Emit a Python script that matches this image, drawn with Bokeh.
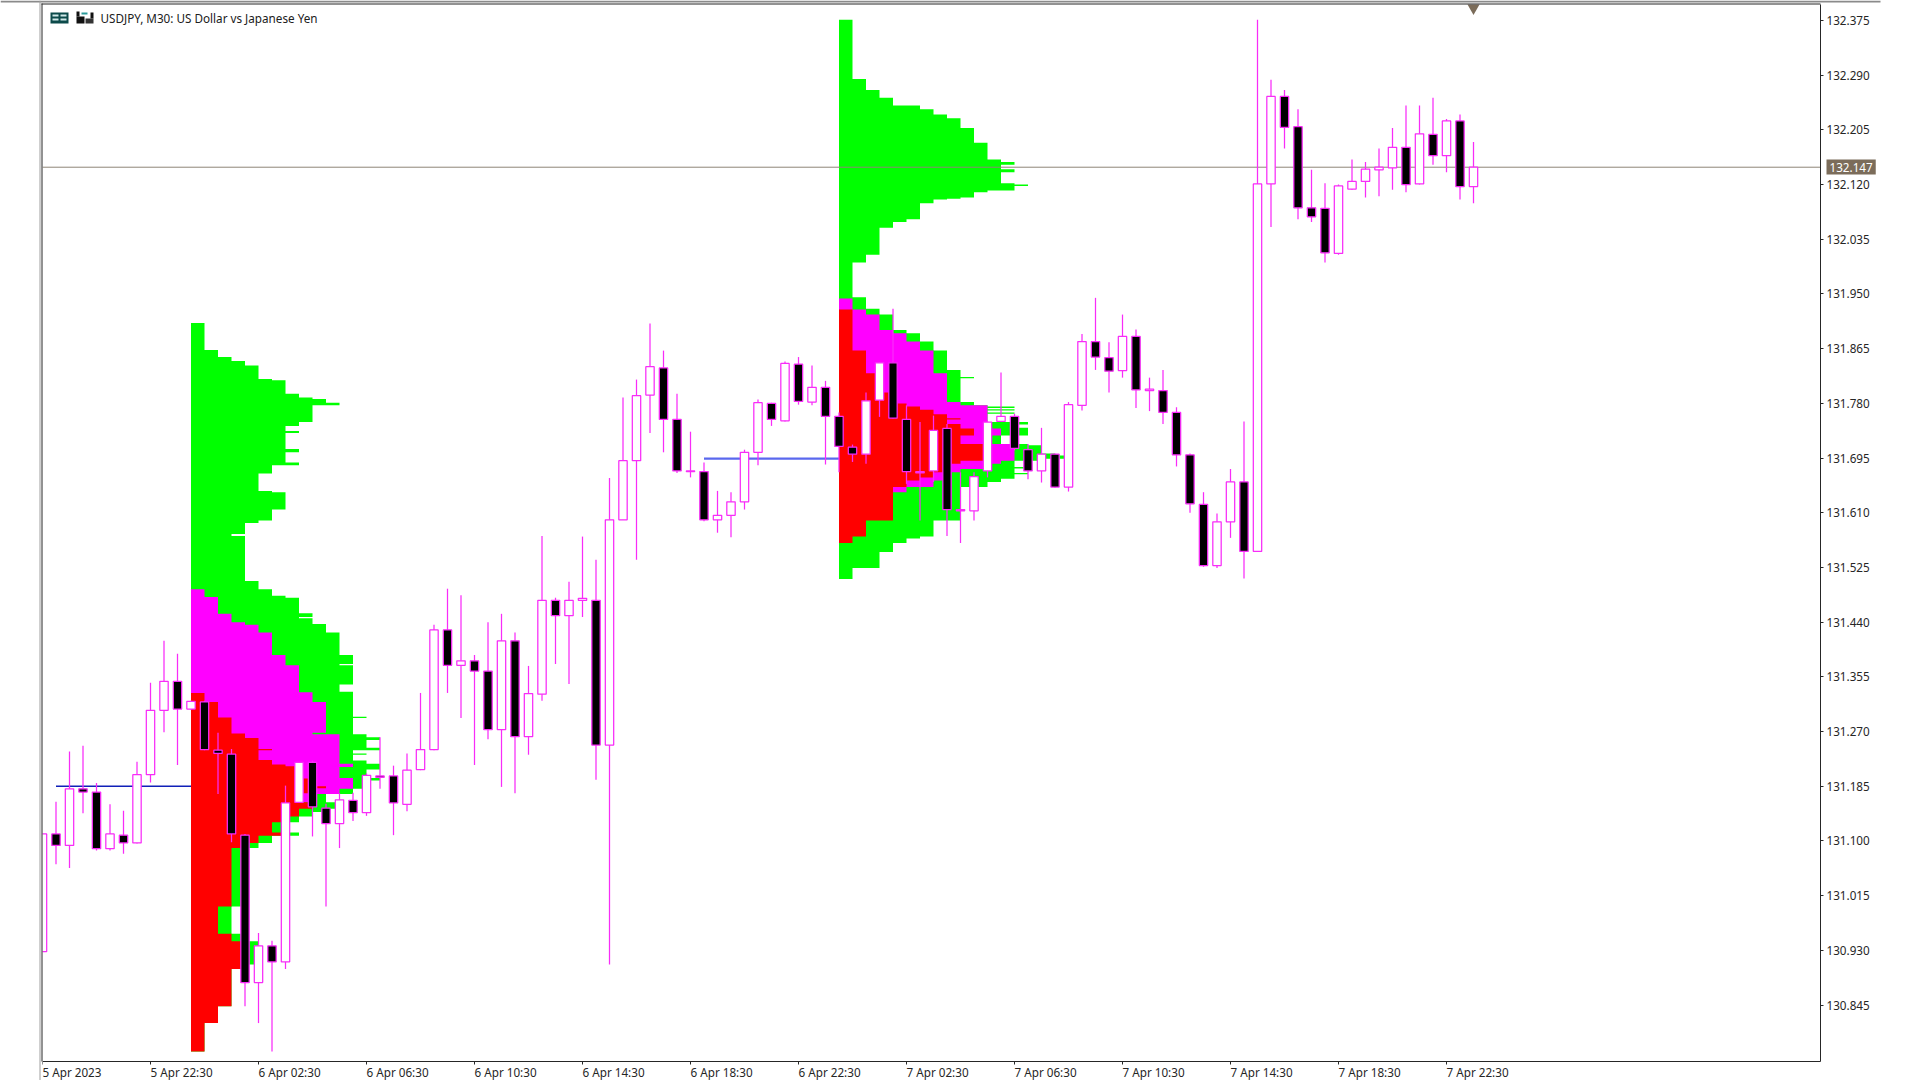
from bokeh.plotting import figure
from bokeh.models import (Range1d, LinearAxis, FixedTicker, NumeralTickFormatter, Label,
                          ColumnDataSource, BoxAnnotation)
from bokeh.embed import file_html
from bokeh.resources import INLINE

FONT = "Noto Sans"

opens = [130.928,131.111,131.093,131.181,131.176,131.088,131.109,131.097,131.203,131.303,
         131.348,131.305,131.316,131.241,131.235,131.109,130.880,130.937,130.912,131.160,
         131.222,131.151,131.127,131.163,131.144,131.201,131.201,131.157,131.211,131.242,
         131.428,131.373,131.380,131.364,131.273,131.411,131.262,131.328,131.474,131.450,
         131.474,131.474,131.249,131.599,131.691,131.793,131.835,131.755,131.674,131.674,
         131.599,131.606,131.627,131.704,131.780,131.753,131.841,131.782,131.805,131.760,
         131.712,131.701,131.785,131.843,131.755,131.672,131.675,131.741,131.615,131.613,
         131.675,131.752,131.760,131.708,131.675,131.701,131.650,131.777,131.876,131.851,
         131.831,131.884,131.800,131.800,131.766,131.700,131.623,131.528,131.596,131.658,
         131.550,132.121,132.257,132.210,132.084,132.083,132.013,132.113,132.125,132.143,
         132.146,132.178,132.121,132.198,132.165,132.219,132.117]
highs = [131.111,131.161,131.239,131.248,131.190,131.157,131.147,131.223,131.346,131.411,
         131.391,131.318,131.318,131.268,131.243,131.111,130.957,130.945,131.186,131.222,
         131.225,131.158,131.174,131.175,131.205,131.261,131.217,131.236,131.330,131.436,
         131.492,131.482,131.389,131.440,131.453,131.424,131.372,131.574,131.478,131.503,
         131.573,131.537,131.664,131.789,131.817,131.904,131.862,131.795,131.736,131.688,
         131.644,131.642,131.708,131.786,131.781,131.845,131.852,131.839,131.815,131.766,
         131.716,131.797,131.844,131.927,131.777,131.751,131.761,131.748,131.673,131.673,
         131.753,131.828,131.764,131.717,131.742,131.702,131.782,131.888,131.944,131.875,
         131.918,131.895,131.820,131.832,131.774,131.702,131.642,131.609,131.678,131.752,
         132.376,132.283,132.267,132.237,132.143,132.122,132.120,132.159,132.155,132.176,
         132.208,132.243,132.243,132.255,132.222,132.229,132.186]
lows = [130.928,131.064,131.058,131.143,131.085,131.085,131.080,131.096,131.191,131.269,
        131.218,131.304,131.241,131.173,131.098,130.843,130.817,130.773,130.901,131.159,
        131.107,130.998,131.089,131.131,131.139,131.181,131.109,131.146,131.210,131.241,
        131.330,131.291,131.218,131.258,131.184,131.174,131.234,131.318,131.375,131.344,
        131.448,131.195,130.908,131.599,131.537,131.734,131.704,131.672,131.665,131.597,
        131.579,131.572,131.615,131.684,131.745,131.752,131.778,131.777,131.685,131.673,
        131.689,131.686,131.759,131.756,131.655,131.598,131.658,131.574,131.563,131.598,
        131.665,131.751,131.707,131.662,131.657,131.649,131.643,131.769,131.832,131.797,
        131.820,131.773,131.768,131.748,131.682,131.610,131.526,131.524,131.571,131.508,
        131.550,132.054,132.176,132.066,132.062,131.999,132.011,132.112,132.100,132.102,
        132.112,132.108,132.120,132.151,132.139,132.097,132.091]
closes = [131.111,131.093,131.181,131.176,131.088,131.111,131.097,131.203,131.303,131.348,
          131.305,131.317,131.242,131.236,131.111,130.880,130.937,130.912,131.159,131.222,
          131.153,131.127,131.164,131.144,131.202,131.199,131.159,131.210,131.242,131.428,
          131.373,131.380,131.364,131.273,131.411,131.262,131.329,131.474,131.450,131.474,
          131.477,131.249,131.599,131.691,131.792,131.837,131.755,131.675,131.675,131.599,
          131.606,131.627,131.704,131.781,131.755,131.842,131.783,131.805,131.760,131.713,
          131.701,131.784,131.843,131.757,131.674,131.674,131.738,131.615,131.613,131.666,
          131.751,131.760,131.710,131.675,131.701,131.650,131.778,131.876,131.852,131.830,
          131.884,131.801,131.802,131.766,131.700,131.624,131.528,131.596,131.658,131.550,
          132.121,132.257,132.209,132.084,132.070,132.014,132.118,132.125,132.144,132.147,
          132.178,132.120,132.199,132.165,132.219,132.117,132.147]

tick_prices = [132.375,132.290,132.205,132.120,132.035,131.950,131.865,131.780,131.695,131.610,
               131.525,131.440,131.355,131.270,131.185,131.100,131.015,130.930,130.845]
time_ticks = [0,8,16,24,32,40,48,56,64,72,80,88,96,104]
time_labels = ["5 Apr 2023","5 Apr 22:30","6 Apr 02:30","6 Apr 06:30","6 Apr 10:30","6 Apr 14:30",
               "6 Apr 18:30","6 Apr 22:30","7 Apr 02:30","7 Apr 06:30","7 Apr 10:30","7 Apr 14:30",
               "7 Apr 18:30","7 Apr 22:30"]
last_price = 132.147
title_text = "USDJPY, M30:  US Dollar vs Japanese Yen"

# Market profile 1 (starts at bar 11): row edges in price, widths in bars
p1_start = 11
p1_green_edges = [131.905,131.863,131.852,131.846,131.839,131.818,131.816,131.795,131.789,131.787,
                  131.781,131.777,131.751,131.745,131.737,131.734,131.709,131.704,131.688,131.684,
                  131.671,131.644,131.642,131.615,131.598,131.594,131.577,131.574,131.504,131.491,
                  131.481,131.478,131.454,131.448,131.446,131.437,131.424,131.389,131.375,131.373,
                  131.343,131.332,131.293,131.291,131.266,131.261,131.257,131.245,131.241,131.236,
                  131.234,131.225,131.220,131.211,131.198,131.194,131.181,131.173,131.160,131.150,
                  131.145,131.138,131.129,131.113,131.108,131.097,131.089,130.998,130.956,130.944,
                  130.908,130.901,130.843,130.817,130.773]
p1_green_widths = [1,2,3,4,5,6,7,8,9,10,
                   11,9,8,7,8,7,8,7,8,6,
                   5,6,7,6,5,4,3,4,5,6,
                   7,8,9,8,9,10,11,12,11,12,
                   11,12,13,12,13,14,13,14,12,13,
                   12,13,14,13,14,13,12,10,11,10,
                   9,8,7,8,6,5,4,3,4,5,
                   4,3,2,1]
p1_magenta_edges = [131.491,131.479,131.453,131.440,131.436,131.424,131.389,131.373,131.331,131.316,
                    131.268,131.266,131.220,131.215,131.198,131.181,131.173,131.160,131.152]
p1_magenta_widths = [1,2,3,4,5,6,7,8,9,10,9,11,12,11,12,11,9,8]
p1_red_edges = [131.330,131.316,131.292,131.267,131.260,131.243,131.241,131.226,131.219,131.216,
                131.197,131.185,131.182,131.174,131.160,131.150,131.138,131.129,131.113,131.108,
                131.097,131.089,130.998,130.956,130.944,130.901,130.843,130.817,130.773]
p1_red_widths = [1,2,3,4,5,6,5,6,7,8,9,10,9,8,9,8,7,6,7,5,4,3,2,3,4,3,2,1]
p1_poc = [1, 11, 131.185]

# Market profile 2 (starts at bar 59)
p2_start = 59
p2_green_edges = [132.376,132.284,132.267,132.255,132.243,132.237,132.229,132.223,132.208,132.185,
                  132.159,132.155,132.151,132.144,132.139,132.122,132.120,132.118,132.111,132.108,
                  132.100,132.098,132.097,132.091,132.066,132.062,132.053,132.011,131.999,131.945,
                  131.927,131.918,131.894,131.889,131.876,131.862,131.832,131.821,131.819,131.782,
                  131.777,131.775,131.773,131.771,131.769,131.766,131.764,131.751,131.747,131.742,
                  131.730,131.717,131.715,131.702,131.699,131.694,131.691,131.681,131.679,131.672,
                  131.670,131.663,131.658,131.650,131.598,131.573,131.570,131.563,131.549,131.524,
                  131.507]
p2_green_widths = [1,2,3,4,6,7,8,9,10,11,
                   12,13,12,13,12,13,14,13,11,10,
                   9,8,7,6,5,4,3,2,1,2,
                   3,4,5,6,7,8,9,10,9,10,
                   11,13,11,13,11,13,11,14,13,14,
                   12,14,15,16,17,15,13,14,13,14,
                   13,12,11,9,7,6,5,4,3,1]
p2_magenta_edges = [131.943,131.926,131.918,131.894,131.889,131.876,131.862,131.827,131.782,131.777,
                    131.741,131.730,131.717,131.691,131.686,131.678,131.673,131.660,131.650,131.642]
p2_magenta_widths = [1,2,3,4,5,6,7,8,9,11,12,11,13,12,11,9,8,7,5]
p2_red_edges = [131.926,131.862,131.827,131.797,131.780,131.775,131.770,131.763,131.757,131.755,
                131.748,131.741,131.730,131.717,131.691,131.686,131.673,131.665,131.660,131.650,
                131.598,131.573,131.563]
p2_red_widths = [1,2,3,4,5,6,7,8,9,8,9,10,9,11,9,8,7,6,5,4,2,1]
p2_poc = [49, 59, 131.694]

GREEN, MAGENTA, RED = "#00ff00", "#ff00ff", "#ff0000"
WICK = "#f82cf8"
TAG = "#7b6c5a"
INK = "#262626"
FONT_SIZE = "11.7px"
BAR_PX = 13.5
LEFT_PX = 42
RIGHT_PX = 1820
PRICE_PER_PX = 1 / 643.5
Y_TOP = 132.375 + 20 * PRICE_PER_PX        # page top
Y_BOTTOM = Y_TOP - 1080 * PRICE_PER_PX     # page bottom
X_AXIS_PRICE = Y_TOP - 1061 * PRICE_PER_PX
FRAME_TOP_PRICE = Y_TOP - 4 * PRICE_PER_PX
Y_AXIS_BAR = (RIGHT_PX - LEFT_PX) / BAR_PX

# The frame fills the whole page; axes sit at fixed locations inside it, so that
# the time labels and the price tag can be drawn in the margins.
p = figure(width=1920, height=1080, output_backend="svg", toolbar_location=None,
           x_range=Range1d(-LEFT_PX / BAR_PX, (1920 - LEFT_PX) / BAR_PX),
           y_range=Range1d(Y_BOTTOM, Y_TOP),
           x_axis_location=None, y_axis_location=None,
           min_border=0, background_fill_color="white", border_fill_color="white",
           outline_line_color=None)
p.grid.visible = False


def profile(start, edges, widths, color):
    """One step-shaped polygon per colour layer, so rows show no seams."""
    assert len(edges) == len(widths) + 1, (color, len(edges), len(widths))
    xs, ys = [start], [edges[0]]
    for i, w in enumerate(widths):
        xs += [start + w, start + w]
        ys += [edges[i], edges[i + 1]]
    xs.append(start)
    ys.append(edges[-1])
    p.patch(xs, ys, fill_color=color, line_color=None)


for start, g, gw, m, mw, r, rw in [
    (p1_start, p1_green_edges, p1_green_widths, p1_magenta_edges, p1_magenta_widths, p1_red_edges, p1_red_widths),
    (p2_start, p2_green_edges, p2_green_widths, p2_magenta_edges, p2_magenta_widths, p2_red_edges, p2_red_widths),
]:
    profile(start, g, gw, GREEN)
    profile(start, m, mw, MAGENTA)
    profile(start, r, rw, RED)

p.segment(x0=[0], x1=[Y_AXIS_BAR], y0=[last_price], y1=[last_price], line_color="#8e8578", line_width=1)

p.segment(x0=[p1_poc[0]], x1=[p1_poc[1]], y0=[p1_poc[2]], y1=[p1_poc[2]], line_color="#1020b8", line_width=1.6)
p.segment(x0=[p2_poc[0]], x1=[p2_poc[1]], y0=[p2_poc[2]], y1=[p2_poc[2]], line_color="#5a68ee", line_width=2.2)

idx = list(range(len(opens)))
src = ColumnDataSource(dict(
    x=idx, o=opens, h=highs, l=lows, c=closes,
    top=[max(a, b) for a, b in zip(opens, closes)],
    bot=[min(a, b) for a, b in zip(opens, closes)],
    fill=["white" if c >= o else "black" for o, c in zip(opens, closes)],
))
p.segment(x0="x", x1="x", y0="l", y1="h", source=src, line_color=WICK, line_width=1.25)
p.vbar(x="x", width=0.62, top="top", bottom="bot", source=src, fill_color="fill", line_color=WICK, line_width=1.25)

# position marker at the top of the chart
p.scatter(x=[106], y=[132.3945], marker="inverted_triangle", size=12, fill_color=TAG, line_color=None)

# axes
right = LinearAxis(ticker=FixedTicker(ticks=tick_prices), formatter=NumeralTickFormatter(format="0.000"),
                   fixed_location=Y_AXIS_BAR, bounds=(X_AXIS_PRICE, FRAME_TOP_PRICE),
                   axis_line_color=INK, major_tick_line_color=INK,
                   major_tick_out=3, major_tick_in=0, minor_tick_out=0, minor_tick_in=0,
                   major_label_standoff=3, major_label_text_font=FONT,
                   major_label_text_font_size=FONT_SIZE, major_label_text_color=INK)
p.add_layout(right, "right")

bottom = LinearAxis(ticker=FixedTicker(ticks=time_ticks), fixed_location=X_AXIS_PRICE,
                    bounds=(0, Y_AXIS_BAR),
                    major_label_overrides={t: "" for t in time_ticks},
                    axis_line_color=INK, major_tick_line_color=INK,
                    major_tick_out=3, major_tick_in=0, minor_tick_out=0, minor_tick_in=0,
                    major_label_standoff=0, major_label_text_font_size="1px")
p.add_layout(bottom, "below")

for t, s in zip(time_ticks, time_labels):
    p.add_layout(Label(x=LEFT_PX + BAR_PX * t, y=1071, x_units="canvas", y_units="canvas", text=s,
                       text_align="left", text_baseline="middle", text_font=FONT,
                       text_font_size=FONT_SIZE, text_color=INK))

# last price tag
p.add_layout(Label(x=1826, y=166.5, x_units="canvas", y_units="canvas", text="132.147", text_align="left",
                   text_baseline="middle", text_font=FONT, text_font_size=FONT_SIZE,
                   text_color="white", background_fill_color=TAG,
                   padding=(3, 3, 3, 3)))

# symbol caption
p.add_layout(Label(x=100, y=17, x_units="canvas", y_units="canvas", text=title_text,
                   text_align="left", text_baseline="middle", text_font=FONT,
                   text_font_size=FONT_SIZE, text_color="#202020"))


def chrome(l, r_, t, b, color, level="overlay"):
    p.add_layout(BoxAnnotation(left=l, right=r_, top=t, bottom=b, left_units="canvas",
                               right_units="canvas", top_units="canvas", bottom_units="canvas",
                               fill_color=color, fill_alpha=1, line_color=None, level=level))


chrome(0, LEFT_PX, 0, 1080, "white")          # hides what lies left of the chart
chrome(0, 1880, 0, 2, "#8a8a8a")
chrome(LEFT_PX - 3, LEFT_PX - 2, 0, 1080, "#a0a0a0")
chrome(LEFT_PX - 1, LEFT_PX, 3, 1061, INK)
chrome(LEFT_PX - 1, RIGHT_PX, 3, 4, INK)
chrome(50, 68, 12, 23, "#0c4a4a")
chrome(52, 58, 14, 16, "#d0e8e8")
chrome(60, 66, 14, 16, "#d0e8e8")
chrome(52, 58, 18, 20, "#d0e8e8")
chrome(60, 66, 18, 20, "#d0e8e8")
chrome(76, 84, 16, 23, "#111111")
chrome(76, 79, 11, 16, "#111111")
chrome(81, 87, 12, 14, "#2a9a9a")
chrome(85, 93, 18, 23, "#333333")
chrome(90, 93, 12, 18, "#111111")

open("out.html", "w").write(file_html(p, INLINE))
